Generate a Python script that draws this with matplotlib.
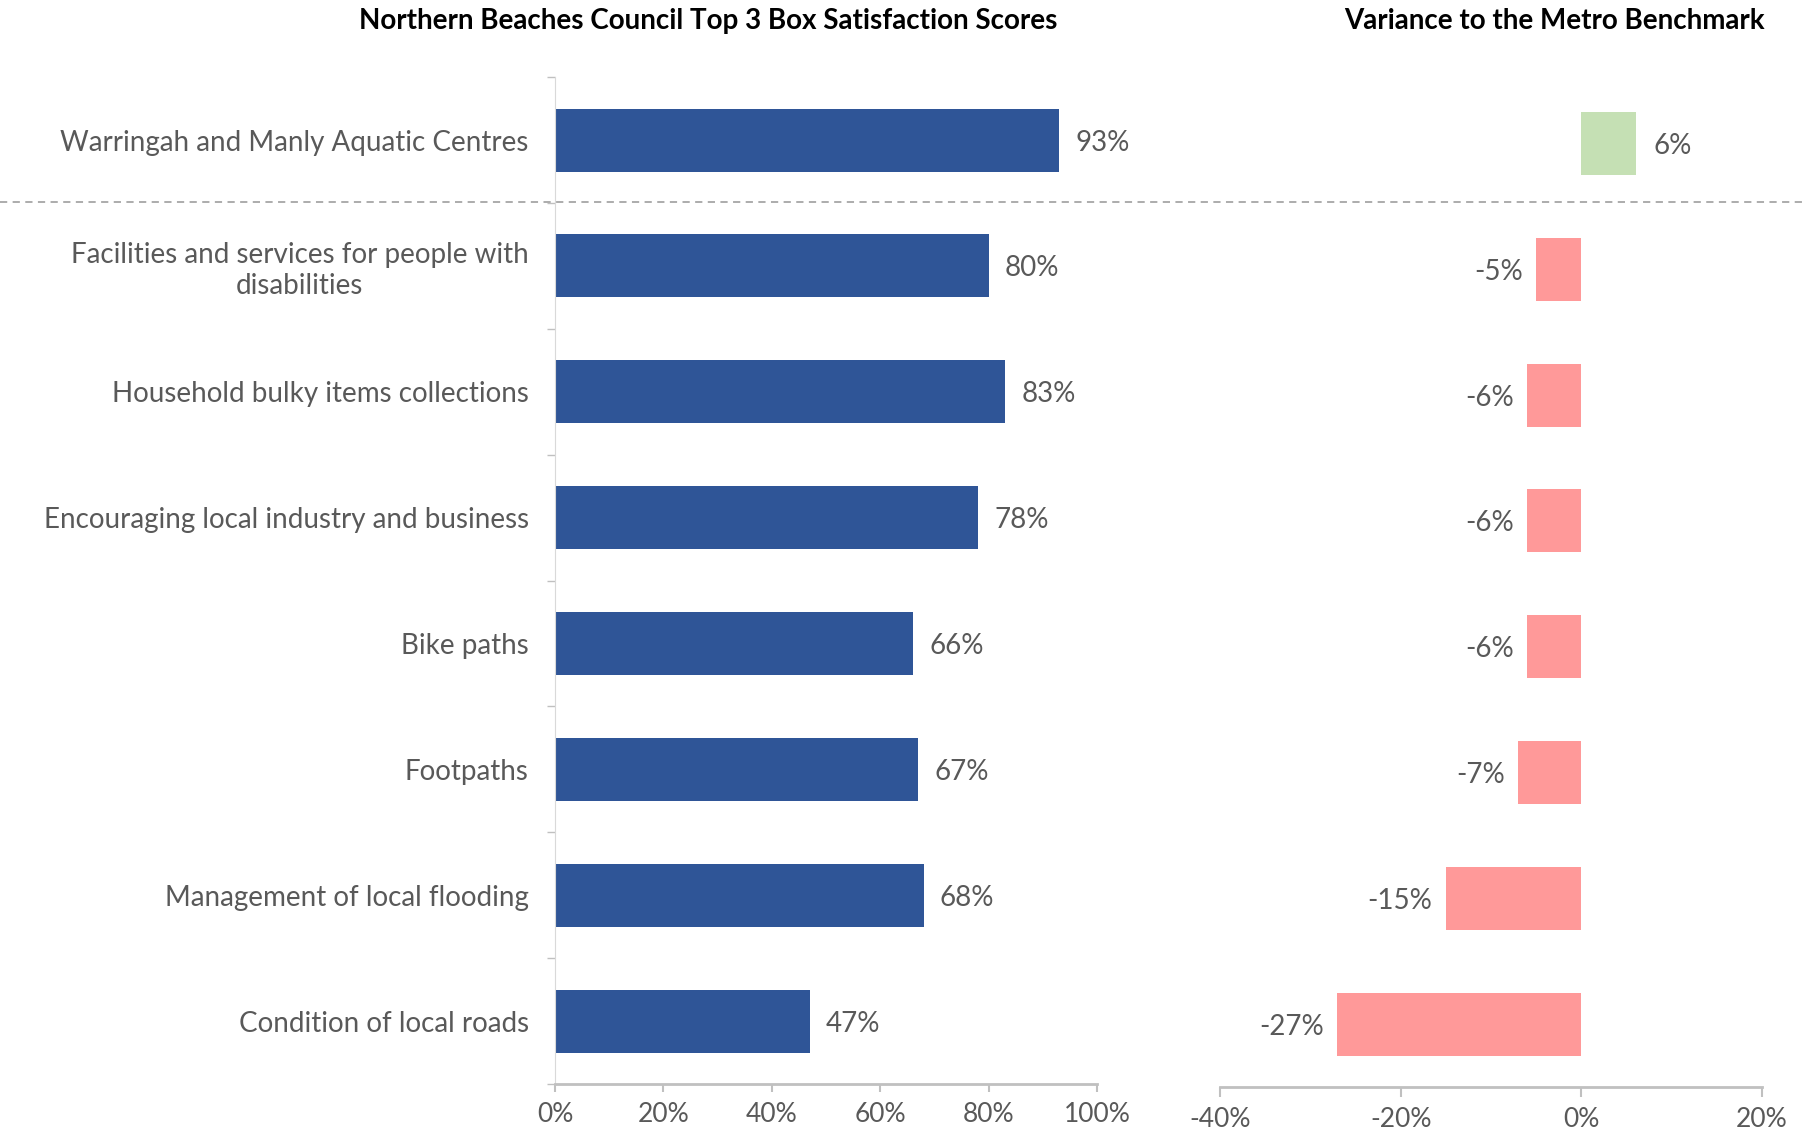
import matplotlib.pyplot as plt
import matplotlib as mpl
import numpy as np
from matplotlib.ticker import FuncFormatter, FixedLocator

mpl.rcParams["font.family"] = ["Lato", "DejaVu Sans"]

categories = [
    "Warringah and Manly Aquatic Centres",
    "Facilities and services for people with\ndisabilities",
    "Household bulky items collections",
    "Encouraging local industry and business",
    "Bike paths",
    "Footpaths",
    "Management of local flooding",
    "Condition of local roads",
]
scores = [93, 80, 83, 78, 66, 67, 68, 47]
variance = [6, -5, -6, -6, -6, -7, -15, -27]

blue = "#2F5597"
green = "#C5E0B4"
pink = "#FF9999"
txt = "#595959"
axis_col = "#C0C0C0"

fig = plt.figure(figsize=(18.08, 11.3), dpi=100)
ax1 = fig.add_axes([0.307, 0.0407, 0.2998, 0.891])
ax2 = fig.add_axes([0.6748, 0.038, 0.2998, 0.8907])

y = np.arange(len(categories))

# left panel
ax1.barh(y, scores, height=0.5, color=blue)
for yi, v in zip(y, scores):
    ax1.text(v + 3, yi + 0.02, f"{v}%", va="center", ha="left", fontsize=20, color=txt)
ax1.set_xlim(0, 100)
ax1.set_ylim(len(categories) - 0.5, -0.5)
ax1.set_yticks(y)
ax1.set_yticklabels(categories, fontsize=20, color=txt, multialignment="center")
ax1.yaxis.set_minor_locator(FixedLocator(np.arange(-0.5, len(categories), 1)))
ax1.tick_params(axis="y", which="major", length=0, pad=19)
ax1.tick_params(axis="y", which="minor", length=6, color=axis_col, width=1)
ax1.set_xticks(np.arange(0, 101, 20))
ax1.xaxis.set_major_formatter(FuncFormatter(lambda v, p: f"{v:.0f}%"))
ax1.tick_params(axis="x", length=6, color=axis_col, width=1.5, labelsize=19,
                labelcolor=txt, pad=7)
for s in ["top", "right"]:
    ax1.spines[s].set_visible(False)
ax1.spines["left"].set_color("#D9D9D9")
ax1.spines["bottom"].set_color(axis_col)
ax1.spines["bottom"].set_linewidth(2)

# right panel
cols = [green if v > 0 else pink for v in variance]
ax2.barh(y, variance, height=0.5, color=cols)
for yi, v in zip(y, variance):
    if v > 0:
        ax2.text(v + 2, yi + 0.02, f"{v}%", va="center", ha="left", fontsize=20, color=txt)
    else:
        ax2.text(v - 1.5, yi + 0.02, f"{v}%", va="center", ha="right", fontsize=20, color=txt)
ax2.set_xlim(-40, 20)
ax2.set_ylim(len(categories) - 0.5, -0.5)
ax2.set_yticks([])
ax2.set_xticks([-40, -20, 0, 20])
ax2.xaxis.set_major_formatter(FuncFormatter(lambda v, p: f"{v:.0f}%"))
ax2.tick_params(axis="x", length=7, color=axis_col, width=1.5, labelsize=19,
                labelcolor=txt, pad=7)
for s in ["top", "right", "left"]:
    ax2.spines[s].set_visible(False)
ax2.spines["bottom"].set_color(axis_col)
ax2.spines["bottom"].set_linewidth(2)

# separator line under the first row
fig.add_artist(plt.Line2D([0, 1], [0.821, 0.821], transform=fig.transFigure,
                          color="#A6A6A6", lw=1.3, ls=(0, (4, 3))))

fig.text(0.3916, 0.981, "Northern Beaches Council Top 3 Box Satisfaction Scores",
         ha="center", va="center", fontsize=20, fontweight="bold", color="black")
fig.text(0.8595, 0.981, "Variance to the Metro Benchmark",
         ha="center", va="center", fontsize=20, fontweight="bold", color="black")

fig.savefig("out.png", dpi=100)
